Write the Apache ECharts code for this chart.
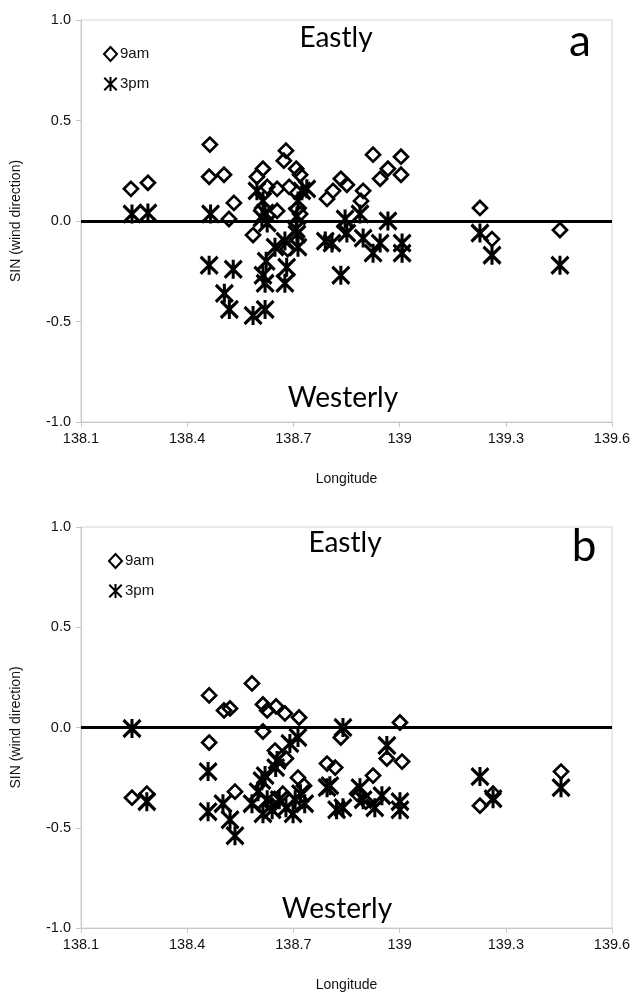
<!DOCTYPE html>
<html>
<head>
<meta charset="utf-8">
<script src="https://cdn.jsdelivr.net/npm/echarts@6/dist/echarts.min.js"></script>
<style>
html,body{margin:0;padding:0;background:#fff;}
#chart{width:636px;height:994px;}
</style>
</head>
<body>
<div id="chart"></div>
<script>
// ---- Data (longitude, SIN(wind direction)) ----
const xTicks = [138.1, 138.4, 138.7, 139, 139.3, 139.6];
const yTicks = [-1.0, -0.5, 0.0, 0.5, 1.0];
const seriesNames = ['9am', '3pm'];
const panelLabels = ['a', 'b'];

const a9am = [
  [138.241,0.16],[138.289,0.19],[138.464,0.38],[138.462,0.22],[138.504,0.23],
  [138.532,0.09],[138.518,0.01],[138.597,0.22],[138.614,0.26],[138.626,0.17],
  [138.654,0.16],[138.654,0.05],[138.586,-0.07],[138.679,0.35],[138.673,0.30],
  [138.708,0.26],[138.719,0.23],[138.688,0.17],[138.719,0.035],[138.684,-0.14],
  [138.925,0.33],[139.004,0.32],[138.967,0.26],[138.945,0.21],[139.004,0.23],
  [138.834,0.21],[138.851,0.18],[138.812,0.15],[138.795,0.11],[138.897,0.15],
  [138.891,0.10],[138.846,-0.03],
  [139.227,0.065],[139.261,-0.09],[139.453,-0.045]
];
const a3pm = [
  [138.244,0.035],[138.289,0.04],[138.466,0.035],[138.462,-0.22],[138.530,-0.24],
  [138.505,-0.36],[138.519,-0.44],[138.586,-0.47],[138.620,-0.44],[138.597,0.15],
  [138.614,0.10],[138.620,0.04],[138.611,0.015],[138.626,-0.01],[138.623,-0.20],
  [138.614,-0.27],[138.620,-0.31],[138.648,-0.13],[138.676,-0.10],[138.681,-0.23],
  [138.676,-0.31],[138.710,-0.065],[138.713,-0.13],[138.708,-0.04],[138.738,0.16],
  [138.724,0.15],[138.713,0.10],[138.710,0.025],
  [138.846,0.01],[138.888,0.035],[138.967,0.0],[138.809,-0.11],[138.851,-0.06],
  [138.897,-0.085],[138.925,-0.16],[138.945,-0.11],[139.007,-0.11],[139.007,-0.16],
  [138.834,-0.27],[138.790,-0.10],
  [139.227,-0.06],[139.261,-0.17],[139.453,-0.22]
];
const b9am = [
  [138.462,0.16],[138.504,0.085],[138.521,0.095],[138.583,0.22],[138.614,0.115],
  [138.626,0.085],[138.651,0.105],[138.676,0.07],[138.716,0.05],[138.614,-0.02],
  [138.462,-0.075],[138.244,-0.35],[138.286,-0.33],[138.535,-0.32],[138.648,-0.115],
  [138.679,-0.155],[138.795,-0.18],[138.713,-0.25],[139.001,0.025],[138.834,-0.05],
  [138.964,-0.155],[139.007,-0.17],[138.818,-0.20],[138.925,-0.24],
  [138.670,-0.33],[138.640,-0.39],[138.880,-0.33],[138.905,-0.37],[138.730,-0.29],
  [139.227,-0.39],[139.264,-0.33],[139.456,-0.22]
];
const b3pm = [
  [138.244,-0.005],[138.286,-0.37],[138.459,-0.22],[138.459,-0.42],[138.501,-0.38],
  [138.521,-0.46],[138.535,-0.54],[138.583,-0.38],[138.611,-0.265],[138.600,-0.32],
  [138.626,-0.36],[138.614,-0.43],[138.640,-0.41],[138.654,-0.165],[138.690,-0.08],
  [138.713,-0.05],[138.705,-0.36],[138.699,-0.43],[138.732,-0.38],[138.679,-0.40],
  [138.795,-0.30],[138.620,-0.24],[138.660,-0.36],[138.720,-0.33],[138.650,-0.20],
  [138.840,0.0],[138.964,-0.09],[138.803,-0.29],[138.888,-0.30],[138.840,-0.40],
  [138.822,-0.41],[138.897,-0.36],[138.930,-0.40],[138.950,-0.34],[139.001,-0.41],
  [139.001,-0.37],
  [139.227,-0.245],[139.264,-0.355],[139.456,-0.30]
];
const panelData = [[a9am, a3pm], [b9am, b3pm]];

// ---- Styles ----
const starPath = 'path://M0,1L16,17M16,1L0,17M8,0L8,18';
const labelFont = 'Liberation Sans, Arial, sans-serif';
const bigFont = 'Lato, sans-serif';

const grids = [
  {left: 81, top: 20, width: 531, height: 402},
  {left: 81, top: 527, width: 531, height: 401}
];

const xAxes = grids.map((g, i) => ({
  gridIndex: i, type: 'value',
  min: xTicks[0], max: xTicks[xTicks.length - 1],
  interval: +(xTicks[1] - xTicks[0]).toFixed(1),
  name: 'Longitude', nameLocation: 'middle', nameGap: 50,
  nameTextStyle: {fontFamily: labelFont, fontSize: 14, color: '#111'},
  axisLine: {show: true, onZero: false, lineStyle: {color: '#c8c8c8', width: 1}},
  axisTick: {show: true, inside: false, length: 5, lineStyle: {color: '#c8c8c8'}},
  axisLabel: {fontFamily: labelFont, fontSize: 14.5, color: '#111', margin: 9,
    formatter: v => String(+v.toFixed(1))},
  splitLine: {show: false}
}));

const yAxes = grids.map((g, i) => ({
  gridIndex: i, type: 'value',
  min: yTicks[0], max: yTicks[yTicks.length - 1], interval: 0.5,
  name: 'SIN (wind direction)', nameLocation: 'middle', nameGap: 58,
  nameTextStyle: {fontFamily: labelFont, fontSize: 14, color: '#111'},
  axisLine: {show: true, lineStyle: {color: '#c8c8c8', width: 1}},
  axisTick: {show: true, inside: false, length: 5, lineStyle: {color: '#c8c8c8'}},
  axisLabel: {fontFamily: labelFont, fontSize: 14.5, color: '#111', margin: 10,
    formatter: v => v.toFixed(1)},
  splitLine: {show: false}
}));

const series = [];
panelData.forEach((pd, i) => {
  series.push({
    name: seriesNames[0], type: 'scatter', xAxisIndex: i, yAxisIndex: i,
    data: pd[0], symbol: 'diamond', symbolSize: [14, 14],
    itemStyle: {color: 'rgba(0,0,0,0)', borderColor: '#000', borderWidth: 2.7, opacity: 1},
    z: 3,
    markLine: {
      silent: true, symbol: ['none', 'none'], label: {show: false},
      lineStyle: {color: '#000', width: 3, type: 'solid'},
      data: [{yAxis: 0}]
    }
  });
  series.push({
    name: seriesNames[1], type: 'scatter', xAxisIndex: i, yAxisIndex: i,
    data: pd[1], symbol: starPath, symbolSize: [17, 19],
    itemStyle: {color: 'rgba(0,0,0,0)', borderColor: '#000', borderWidth: 3.2, opacity: 1},
    z: 3
  });
});

const legends = [
  {left: 103, top: 46},
  {left: 108, top: 553}
].map(p => ({
  left: p.left, top: p.top, orient: 'vertical', data: seriesNames,
  itemWidth: 13, itemHeight: 14, itemGap: 14, padding: 0,
  textStyle: {fontFamily: labelFont, fontSize: 15, color: '#111', padding: [0, 0, 0, -2]},
  selectedMode: false
}));

const texts = [
  {t: 'Eastly', x: 336, y: 38, s: 28},
  {t: 'Westerly', x: 343, y: 398, s: 28},
  {t: panelLabels[0], x: 580, y: 42, s: 44},
  {t: 'Eastly', x: 345, y: 543, s: 28},
  {t: 'Westerly', x: 337, y: 909, s: 28},
  {t: panelLabels[1], x: 584, y: 547, s: 44}
];

const chart = echarts.init(document.getElementById('chart'));
chart.setOption({
  animation: false,
  backgroundColor: '#fff',
  grid: grids.map(g => Object.assign({show: true, borderColor: '#d4d4d4', borderWidth: 1, backgroundColor: 'transparent'}, g)),
  xAxis: xAxes,
  yAxis: yAxes,
  legend: legends,
  series: series,
  graphic: texts.map(o => ({
    type: 'text', x: o.x, y: o.y, z: 10,
    style: {text: o.t, fill: '#000', font: 'normal ' + o.s + 'px ' + bigFont,
      textAlign: 'center', textVerticalAlign: 'middle', verticalAlign: 'middle'}
  }))
});
</script>
</body>
</html>
